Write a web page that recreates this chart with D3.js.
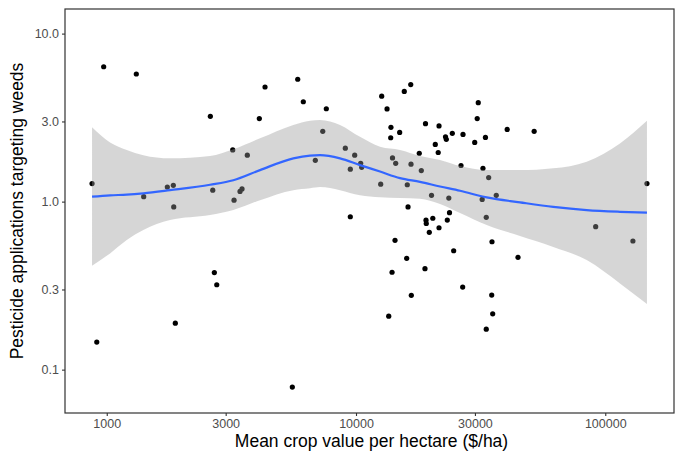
<!DOCTYPE html>
<html>
<head>
<meta charset="utf-8">
<script src="https://cdn.jsdelivr.net/npm/d3@7/dist/d3.min.js"></script>
<style>
  html, body { margin: 0; padding: 0; background: #fff; }
  svg { display: block; font-family: "Liberation Sans", Arial, sans-serif; }
</style>
</head>
<body>
<svg id="chart" width="680" height="453"></svg>
<script>
// Crop value ($/ha) and number of herbicide applications, one entry per crop
const cropValue = [873, 972, 1314, 1407, 1750, 1850, 1857, 2604, 2662, 3202,
  3241, 3425, 3489, 3664, 4094, 4315, 5837, 6146, 6867, 7354,
  7601, 9059, 9487, 9880, 10440, 10540, 12680, 13320, 13810, 13780,
  14970, 15620, 16580, 14010, 14430, 12560, 16620, 16060, 16170, 17940,
  18280, 19000, 20090, 20800, 21370, 21530, 22860, 23030, 23570, 24340,
  26380, 26870, 29940, 30640, 30940, 32080, 32310, 33060, 34060, 36540,
  40420, 51850, 147000, 19090, 19140, 20330, 19680, 21530, 23240, 23720,
  33310, 14340, 35120, 24650, 15970, 44660, 13950, 18910, 26790, 16670,
  35030, 13530, 35350, 33310, 91520, 129100, 9487, 2702, 2763, 1884,
  912, 5553];
const weedApps = [1.28, 6.35, 5.75, 1.07, 1.22, 1.25, 0.93, 3.22, 1.17, 2.03,
  1.02, 1.15, 1.19, 1.89, 3.12, 4.81, 5.35, 3.93, 1.76, 2.62,
  3.57, 2.08, 1.56, 1.89, 1.69, 1.60, 4.24, 3.56, 2.77, 2.40,
  2.58, 4.53, 4.97, 1.82, 1.69, 1.27, 1.67, 1.26, 0.93, 1.94,
  1.53, 2.91, 1.09, 2.19, 1.96, 2.82, 2.43, 2.35, 1.05, 2.55,
  1.64, 2.51, 2.25, 3.12, 3.88, 1.03, 1.58, 2.41, 1.39, 1.09,
  2.69, 2.62, 1.28, 0.775, 0.741, 0.796, 0.657, 0.699, 0.777, 0.859,
  0.806, 0.588, 0.577, 0.510, 0.460, 0.466, 0.380, 0.399, 0.310, 0.277,
  0.278, 0.208, 0.215, 0.174, 0.709, 0.583, 0.813, 0.378, 0.320, 0.189,
  0.146, 0.0788];

// LOESS smooth with its confidence band
const smoothX = [873, 1031, 1203, 1402, 1795, 2597, 3220, 4120, 5605, 6541,
  7171, 8627, 10375, 12483, 15016, 18060, 21730, 26140, 33440, 45490,
  61850, 84230, 114550, 147000];
const smoothFit = [1.07, 1.09, 1.10, 1.12, 1.17, 1.26, 1.34, 1.54, 1.81, 1.88,
  1.89, 1.81, 1.65, 1.51, 1.38, 1.31, 1.23, 1.16, 1.06, 0.99,
  0.93, 0.89, 0.87, 0.86];
const smoothUpper = [2.77, 2.25, 2.03, 1.89, 1.81, 1.87, 2.05, 2.38, 2.86, 3.03,
  3.06, 2.86, 2.43, 2.12, 2.03, 1.87, 1.77, 1.63, 1.54, 1.54,
  1.58, 1.73, 2.22, 3.03];
const smoothLower = [0.415, 0.492, 0.591, 0.678, 0.777, 0.832, 0.891, 1.02, 1.17, 1.20,
  1.22, 1.17, 1.09, 1.06, 1.05, 1.04, 0.968, 0.855, 0.726, 0.624,
  0.537, 0.449, 0.326, 0.246];

const xTicks = [1000, 3000, 10000, 30000, 100000];
const xTickLabels = ["1000", "3000", "10000", "30000", "100000"];
const yTicks = [0.1, 0.3, 1, 3, 10];
const yTickLabels = ["0.1", "0.3", "1.0", "3.0", "10.0"];

const svg = d3.select("#chart");
const panel = { left: 65, right: 674, top: 9, bottom: 413 };

const x = d3.scaleLog().domain([680, 188700]).range([panel.left, panel.right]);
const y = d3.scaleLog().domain([0.0552, 14.01]).range([panel.bottom, panel.top]);

// points (drawn first so the band tints those beneath it)
const pts = cropValue.map((v, i) => ({ x: v, y: weedApps[i] }));
svg.append("g")
  .selectAll("circle")
  .data(pts)
  .join("circle")
  .attr("cx", d => x(d.x))
  .attr("cy", d => y(d.y))
  .attr("r", 2.6)
  .attr("fill", "#000");

const sm = smoothX.map((v, i) => ({ x: v, fit: smoothFit[i], lo: smoothLower[i], hi: smoothUpper[i] }));

svg.append("path")
  .datum(sm)
  .attr("d", d3.area()
    .x(d => x(d.x))
    .y0(d => y(d.lo))
    .y1(d => y(d.hi))
    .curve(d3.curveMonotoneX))
  .attr("fill", "#999999")
  .attr("fill-opacity", 0.4);

svg.append("path")
  .datum(sm)
  .attr("d", d3.line()
    .x(d => x(d.x))
    .y(d => y(d.fit))
    .curve(d3.curveMonotoneX))
  .attr("fill", "none")
  .attr("stroke", "#3366FF")
  .attr("stroke-width", 2.2);

// panel border
svg.append("rect")
  .attr("x", panel.left)
  .attr("y", panel.top)
  .attr("width", panel.right - panel.left)
  .attr("height", panel.bottom - panel.top)
  .attr("fill", "none")
  .attr("stroke", "#333")
  .attr("stroke-width", 1.2);

// axes
const xAxis = d3.axisBottom(x)
  .tickValues(xTicks)
  .tickFormat((d, i) => xTickLabels[i])
  .tickSize(3)
  .tickPadding(3);
const gx = svg.append("g")
  .attr("transform", `translate(0,${panel.bottom})`)
  .call(xAxis);

const yAxis = d3.axisLeft(y)
  .tickValues(yTicks)
  .tickFormat((d, i) => yTickLabels[i])
  .tickSize(3)
  .tickPadding(3);
const gy = svg.append("g")
  .attr("transform", `translate(${panel.left},0)`)
  .call(yAxis);

[gx, gy].forEach(g => {
  g.select(".domain").remove();
  g.selectAll(".tick line").attr("stroke", "#333").attr("stroke-width", 1.1);
  g.selectAll(".tick text")
    .attr("fill", "#4d4d4d")
    .style("font-size", "12.5px")
    .style("font-family", "'Liberation Sans', Arial, sans-serif");
});

// axis titles
svg.append("text")
  .attr("x", (panel.left + panel.right) / 2 + 2)
  .attr("y", 447)
  .attr("text-anchor", "middle")
  .style("font-size", "17.5px")
  .attr("fill", "#000")
  .text("Mean crop value per hectare ($/ha)");

svg.append("text")
  .attr("transform", `translate(23,${(panel.top + panel.bottom) / 2}) rotate(-90)`)
  .attr("text-anchor", "middle")
  .style("font-size", "17.5px")
  .attr("fill", "#000")
  .text("Pesticide applications targeting weeds");
</script>
</body>
</html>
